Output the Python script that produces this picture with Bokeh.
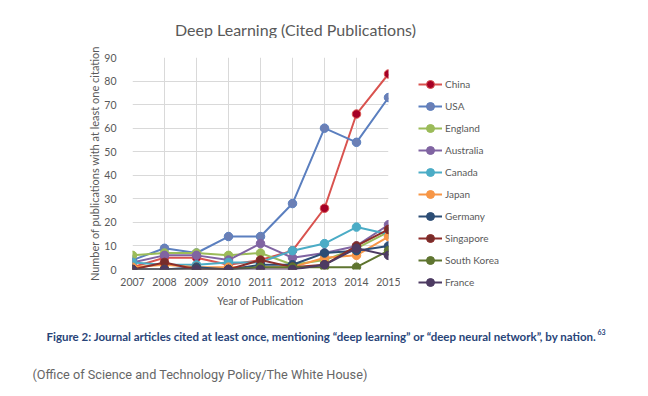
from bokeh.plotting import figure
from bokeh.layouts import column, row
from bokeh.models import Legend, LegendItem, Label, Range1d, FixedTicker
from bokeh.embed import file_html
from bokeh.resources import INLINE

years = [2007, 2008, 2009, 2010, 2011, 2012, 2013, 2014, 2015]
china = [1, 5, 5, 2, 4, 8, 26, 66, 83]
usa = [4, 9, 7, 14, 14, 28, 60, 54, 73]
england = [6, 7, 7, 6, 7, 2, 4, 9, 16]
australia = [3, 6, 6, 4, 11, 5, 7, 10, 19]
canada = [3, 2, 2, 3, 3, 8, 11, 18, 15]
japan = [1, 2, 1, 1, 1, 1, 5, 6, 14]
germany = [0, 0, 1, 0, 2, 2, 7, 8, 10]
singapore = [0, 3, 0, 0, 4, 1, 2, 10, 17]
south_korea = [0, 0, 0, 0, 1, 1, 1, 1, 8]
france = [0, 0, 0, 0, 0, 0, 2, 9, 6]

series_names = ["China", "USA", "England", "Australia", "Canada", "Japan",
                "Germany", "Singapore", "South Korea", "France"]
series_values = [china, usa, england, australia, canada, japan,
                 germany, singapore, south_korea, france]
line_colors = ["#d9534f", "#5b7fbf", "#9bbb59", "#8064a2", "#4bacc6",
               "#f79646", "#2c4d75", "#8c2d2a", "#5f7530", "#4d3b62"]
marker_colors = ["#a50026", "#6b7fb5", "#9bbb59", "#8064a2", "#4bacc6",
                 "#f79646", "#2c4d75", "#772c2a", "#5f7530", "#4d3b62"]

y_ticks = [0, 10, 20, 30, 40, 50, 60, 70, 80, 90]

chart_title = "Deep Learning (Cited Publications)"
caption_text = ("Figure 2: Journal articles cited at least once, mentioning "
                "\u201cdeep learning\u201d or \u201cdeep neural network\u201d, by nation.")
footnote_text = "63"
source_text = "(Office of Science and Technology Policy/The White House)"

FONT = "Lato"
GRAY = "#595959"
NAVY = "#284478"
W = 640

# page layout (pixels from the top-left of the page)
FRAME_L, FRAME_R, FRAME_T, FRAME_B = 132, 388, 57, 269


def text_canvas(w, h):
    f = figure(width=w, height=h, output_backend="svg", toolbar_location=None,
               x_range=Range1d(0, w), y_range=Range1d(h, 0),
               x_axis_type=None, y_axis_type=None, min_border=0,
               frame_align=False)
    f.outline_line_color = None
    f.xgrid.visible = False
    f.ygrid.visible = False
    return f


# --- top: title ---
TOP_H = 38
top = text_canvas(W, TOP_H)
top.add_layout(Label(x=295, y=29, text=chart_title, text_font=FONT,
                     text_font_size="16px", text_color=GRAY, text_align="center",
                     text_baseline="middle"))

# --- main chart ---
MAIN_BOTTOM = 313
MAIN_H = MAIN_BOTTOM - TOP_H
MAIN_W = 400
p = figure(width=MAIN_W, height=MAIN_H, output_backend="svg", toolbar_location=None,
           x_range=Range1d(2007, 2015), y_range=Range1d(0, 90),
           min_border_left=FRAME_L, min_border_right=MAIN_W - FRAME_R,
           min_border_top=FRAME_T - TOP_H, min_border_bottom=MAIN_BOTTOM - FRAME_B,
           frame_align=False)
p.outline_line_color = None

p.xgrid.ticker = FixedTicker(ticks=years)
p.ygrid.ticker = FixedTicker(ticks=y_ticks)
p.xgrid.grid_line_color = "#d9d9d9"
p.ygrid.grid_line_color = "#d9d9d9"

p.xaxis.ticker = FixedTicker(ticks=years)
p.yaxis.ticker = FixedTicker(ticks=y_ticks)
for ax in (p.xaxis[0], p.yaxis[0]):
    ax.axis_line_color = None
    ax.major_tick_line_color = None
    ax.minor_tick_line_color = None
    ax.major_label_text_font = FONT
    ax.major_label_text_font_size = "10.5px"
    ax.major_label_text_color = GRAY
    ax.axis_label_text_font = FONT
    ax.axis_label_text_font_style = "normal"
    ax.axis_label_text_color = GRAY
p.xaxis.axis_label_text_font_size = "10.5px"
p.yaxis.axis_label_text_font_size = "11px"
p.xaxis.major_label_standoff = 2
p.yaxis.major_label_standoff = 10
p.xaxis.axis_label = "Year of Publication"
p.yaxis.axis_label = "Number of publications with at least one citation"
p.xaxis.axis_label_standoff = 6
p.yaxis.axis_label_standoff = 0

for vals, lc, mc in zip(series_values, line_colors, marker_colors):
    p.line(years, vals, line_color=lc, line_width=2)
    p.scatter(years, vals, size=8.5, fill_color=mc, line_color=lc, line_width=1)

# --- legend panel (separate canvas so nothing is clipped) ---
LEG_W = W - MAIN_W
lf = text_canvas(LEG_W, MAIN_H)
items = []
for name, vals, lc, mc in zip(series_names, series_values, line_colors, marker_colors):
    lr = lf.line(years, vals, line_color=lc, line_width=2, visible=False)
    cr = lf.scatter(years, vals, size=8.5, fill_color=mc, line_color=lc,
                    line_width=1, visible=False)
    items.append(LegendItem(label=name, renderers=[lr, cr]))
legend = Legend(items=items, location=(18, MAIN_BOTTOM - 292),
                orientation="vertical", click_policy="none",
                border_line_alpha=0, background_fill_alpha=0, padding=0, margin=0,
                spacing=2, glyph_width=24, glyph_height=20, label_height=20,
                label_standoff=3, label_text_font=FONT, label_text_font_size="10px",
                label_text_color=GRAY)
lf.add_layout(legend, "center")

# --- bottom: caption and source ---
BOT_H = 388 - MAIN_BOTTOM
bot = text_canvas(W, BOT_H)
y0 = MAIN_BOTTOM
bot.add_layout(Label(x=46, y=336 - y0, text=caption_text, text_font=FONT,
                     text_font_size="11.5px", text_font_style="bold",
                     text_color=NAVY, text_align="left", text_baseline="middle"))
bot.add_layout(Label(x=597, y=331 - y0, text=footnote_text, text_font=FONT,
                     text_font_size="7px", text_font_style="bold",
                     text_color=NAVY, text_align="left", text_baseline="middle"))
bot.add_layout(Label(x=32, y=374 - y0, text=source_text, text_font="Roboto",
                     text_font_size="12.7px", text_color="#666666",
                     text_align="left", text_baseline="middle"))

layout = column(top, row(p, lf, spacing=0), bot, spacing=0)
open("out.html", "w").write(file_html(layout, INLINE))
